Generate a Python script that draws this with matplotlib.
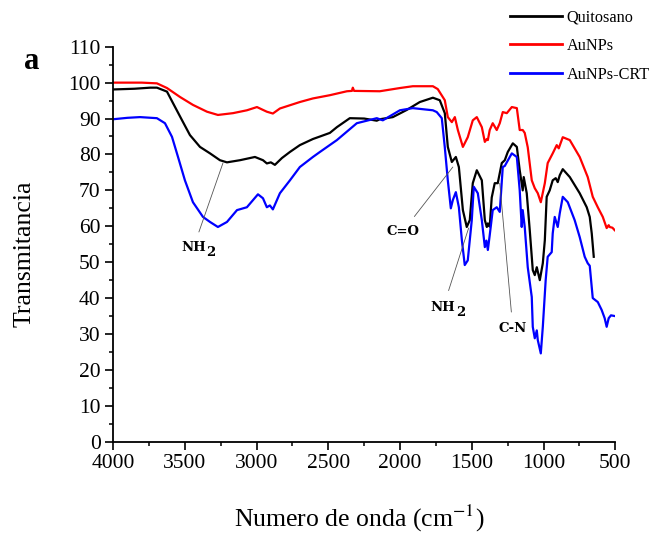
import numpy as np
import matplotlib
matplotlib.use('Agg')
import matplotlib.pyplot as plt
from matplotlib.text import Text
from matplotlib.ticker import MultipleLocator

# ---- data ----
wn_quit = [4000, 3850, 3740, 3694, 3624, 3582, 3520, 3464, 3394, 3324, 3255, 3206, 3115,
           3011, 2955, 2928, 2900, 2872, 2823, 2767, 2698, 2607, 2558, 2489, 2440, 2350,
           2250, 2162, 2141, 2050, 1953, 1862, 1771, 1723, 1688, 1667, 1639,
           1611, 1590, 1562, 1535, 1514, 1493, 1465, 1430, 1409, 1395, 1388, 1375, 1361,
           1340, 1319, 1291, 1270, 1249, 1214, 1186, 1166, 1145, 1138, 1117, 1096, 1075,
           1061, 1047, 1026, 1005, 991, 978, 957, 936, 915, 901, 887, 866, 817, 748, 699,
           678, 664, 650]
t_quit = [98.1, 98.3, 98.6, 98.6, 97.5, 94.3, 89.6, 85.4, 82.1, 80.3, 78.4, 77.8, 78.4,
          79.3, 78.4, 77.5, 77.8, 77.1, 79.0, 80.7, 82.6, 84.3, 85.0, 86.0, 87.6, 90.1,
          90.0, 89.4, 89.8, 90.4, 92.4, 94.6, 95.8, 95.1, 91.5, 82.1, 77.9,
          79.3, 76.5, 64.5, 59.8, 61.7, 72.0, 75.6, 72.8, 61.7, 59.8, 60.8, 59.9, 68.0,
          72.0, 72.0, 77.6, 78.4, 80.7, 83.1, 82.1, 75.6, 70.0, 73.7, 69.2, 58.9, 47.8,
          46.4, 48.6, 45.0, 49.7, 56.1, 68.2, 70.0, 72.8, 73.4, 72.3, 74.2, 75.9, 73.7,
          69.2, 65.3, 62.6, 58.0, 51.5]

wn_au = [4000, 3800, 3694, 3624, 3533, 3443, 3345, 3269, 3164, 3067, 2997, 2960, 2928,
         2886, 2837, 2698, 2607, 2489, 2370, 2335, 2329, 2320, 2141, 2000, 1911, 1771,
         1737, 1688, 1667, 1639,
         1618, 1597, 1562, 1528, 1493, 1465, 1430, 1409, 1395, 1388, 1375, 1354, 1326,
         1305, 1284, 1256, 1221, 1186, 1166, 1145, 1131, 1110, 1082, 1061, 1040, 1019,
         991, 971, 936, 908, 894, 866, 817, 748, 692, 657, 622, 587, 560, 546, 539, 520,
         504]
t_au = [100.0, 100.0, 99.8, 98.5, 96.0, 93.8, 91.9, 91.0, 91.5, 92.3, 93.2, 92.5, 91.9,
        91.4, 92.8, 94.6, 95.6, 96.5, 97.6, 97.7, 98.6, 97.7, 97.6, 98.5, 99.0, 99.0,
        98.2, 95.1, 90.4, 89.0,
        90.4, 86.8, 82.1, 84.8, 89.5, 90.4, 87.6, 83.5, 84.3, 84.0, 86.8, 88.7, 86.8,
        88.7, 91.8, 91.5, 93.2, 92.9, 86.8, 86.8, 86.0, 82.0, 72.8, 70.6, 69.2, 66.7,
        72.0, 77.6, 80.3, 82.6, 81.7, 84.8, 84.0, 79.3, 73.7, 68.2, 65.3, 62.6, 59.5,
        60.3, 59.8, 59.6, 58.9]

wn_crt = [4000, 3900, 3812, 3694, 3638, 3589, 3547, 3499, 3443, 3373, 3324, 3269, 3206,
          3136, 3067, 2990, 2955, 2928, 2907, 2886, 2837, 2767, 2698, 2607, 2558, 2440,
          2301, 2162, 2120, 2001, 1911, 1771, 1744, 1709, 1688, 1667, 1646, 1632, 1611,
          1590, 1569, 1549, 1528, 1500,
          1486, 1458, 1430, 1409, 1398, 1388, 1375, 1354, 1326, 1305, 1284, 1270, 1221,
          1186, 1166, 1152, 1145, 1131, 1110, 1082, 1075, 1061, 1047, 1040, 1019, 1005,
          985, 971, 943, 936, 922, 901, 887, 866, 831, 783, 748, 713, 692, 678, 657, 622,
          595, 574, 560, 546, 530, 504]
t_crt = [89.8, 90.2, 90.4, 90.1, 88.7, 84.9, 79.3, 72.8, 66.7, 62.6, 61.2, 59.8, 61.2,
         64.5, 65.3, 68.9, 67.8, 65.3, 65.8, 64.7, 69.2, 72.8, 76.5, 79.3, 80.7, 84.0,
         88.7, 90.1, 89.5, 92.3, 92.9, 92.3, 91.8, 90.1, 82.0, 72.8, 65.0, 67.3, 69.5,
         65.3, 56.1, 49.2, 50.5, 61.7,
         71.0, 69.2, 61.7, 54.2, 56.0, 53.4, 57.5, 64.5, 65.3, 64.0, 76.5, 76.8, 80.3,
         79.3, 70.0, 59.8, 64.5, 59.8, 48.6, 40.3, 32.0, 28.8, 31.0, 28.3, 24.6, 32.0,
         45.0, 51.5, 52.8, 58.0, 62.6, 59.8, 63.6, 68.2, 66.7, 61.7, 57.0, 51.5, 49.7,
         49.0, 40.0, 38.9, 36.7, 34.4, 32.0, 34.4, 35.2, 35.0]

labels = ['Quitosano', 'AuNPs', 'AuNPs-CRT']
colors = ['black', 'red', 'blue']

plt.rcParams['font.family'] = 'Liberation Serif'
plt.rcParams['mathtext.fontset'] = 'stix'

fig = plt.figure(figsize=(6.54, 5.34), dpi=100)
ax = fig.add_axes([0.1728, 0.1728, 0.768, 0.7397])

for wn, t, lab, c in zip([wn_quit, wn_au, wn_crt], [t_quit, t_au, t_crt], labels, colors):
    ax.plot(wn, t, color=c, lw=1.6, label=lab)

ax.set_xlim(4000, 500)
ax.set_ylim(0, 110)
ax.xaxis.set_major_locator(MultipleLocator(500))
ax.xaxis.set_minor_locator(MultipleLocator(250))
ax.yaxis.set_major_locator(MultipleLocator(10))
ax.yaxis.set_minor_locator(MultipleLocator(5))
ax.spines['top'].set_visible(False)
ax.spines['right'].set_visible(False)
for s in ['left', 'bottom']:
    ax.spines[s].set_linewidth(1.3)
ax.tick_params(which='major', direction='out', length=6, width=1.2, labelsize=15.5, pad=3)
ax.tick_params(which='minor', direction='out', length=2.6, width=1.1)

ax.set_ylabel('Transmitancia', fontsize=18.5)
ax.yaxis.label.set_va('center')
ax.yaxis.set_label_coords(-0.177, 0.475)
ax.set_xlabel(r'Numero de onda (cm$^{-1}$)', fontsize=18.5)
ax.xaxis.label.set_va('baseline')
ax.xaxis.set_label_coords(0.49, -0.215)

fig.text(0.037, 0.871, 'a', fontsize=22, fontweight='bold')

# band annotations
ann = dict(fontsize=9.5, fontweight='bold', family='DejaVu Serif')
arr = dict(arrowstyle='-', color='#555555', lw=0.6)


def nh2(xy, xytext, shrink):
    # "NH" with a large lowered "2", as in the original figure
    t = ax.annotate('NH', xy=xy, xytext=xytext, ha='center', va='center',
                    arrowprops=dict(arr, shrinkA=shrink, shrinkB=0), **ann)
    text_box = lambda r: Text.get_window_extent(t, r)   # text only, without the line
    ax.annotate('2', xy=(1, 0), xycoords=text_box, xytext=(0.5, -3.5),
                textcoords='offset points', ha='left', va='bottom', **ann)


nh2((3234, 77.6), (3440, 54.0), 5)
ax.annotate('C=O', xy=(1632, 76.5), xytext=(1980, 58.6), ha='center', va='center',
            arrowprops=dict(arr, shrinkA=5, shrinkB=0), **ann)
nh2((1522, 59.5), (1700, 37.3), 6)
ax.annotate('C-N', xy=(1305, 72.0), xytext=(1214, 31.6), ha='center', va='center',
            arrowprops=dict(arr, shrinkA=5, shrinkB=0), **ann)

leg = ax.legend(loc='upper left', bbox_to_anchor=(0.79, 1.095), frameon=False, fontsize=11.7,
                handlelength=3.2, handletextpad=0.3, labelspacing=0.79, borderaxespad=0,
                borderpad=0)
for l in leg.get_lines():
    l.set_linewidth(2)

fig.savefig('out.png', dpi=100)
